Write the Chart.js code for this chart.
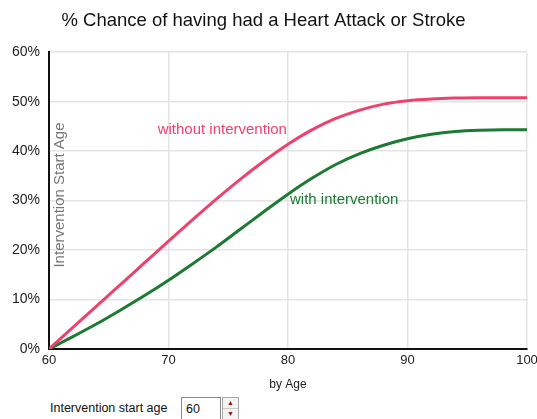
<!DOCTYPE html>
<html>
<head>
<meta charset="utf-8">
<script src="https://cdn.jsdelivr.net/npm/chart.js@4"></script>
<style>
  body { margin: 0; background: #fff; font-family: "Liberation Sans", Arial, sans-serif; }
  #wrap { position: relative; width: 537px; height: 419px; overflow: hidden; }
  #chartBox { position: absolute; left: 0; top: 0; width: 537px; height: 392px; }
  #controls { position: absolute; left: 50px; top: 397px; height: 22px; font-size: 12.5px; color: #111; }
  #controls .lbl { position: absolute; left: 0; top: 4px; white-space: nowrap; }
  #controls .box { position: absolute; left: 131px; top: 0; width: 40px; height: 23px; border: 1px solid #888; box-sizing: border-box; padding: 4px 0 0 4px; font-size: 12.5px; }
  #controls .spin { position: absolute; left: 172px; top: 0; width: 17px; height: 23px; border: 1px solid #aaa; box-sizing: border-box; background: #f4f4f4; }
  #controls .spin span { display: block; height: 10px; line-height: 10px; text-align: center; font-size: 7px; color: #8b1a1a; }
  #controls .spin span.up { border-bottom: 1px solid #ccc; }
</style>
</head>
<body>
<div id="wrap">
  <div id="chartBox"><canvas id="chart"></canvas></div>
  <div id="controls">
    <span class="lbl">Intervention start age</span>
    <div class="box">60</div>
    <div class="spin"><span class="up">▲</span><span>▼</span></div>
  </div>
</div>
<script>
// ages (x) and % chance
const ages = [60, 62, 64, 66, 68, 70, 72, 74, 76, 78, 80, 82, 84, 86, 88, 90, 92, 94, 96, 98, 100];
const withoutIntervention = [0, 4.36, 8.72, 13.08, 17.44, 21.8, 26.1, 30.3, 34.3, 38.0, 41.4, 44.3, 46.6, 48.3, 49.5, 50.2, 50.55, 50.72, 50.8, 50.8, 50.8];
const withIntervention = [0, 2.5, 5.1, 7.9, 10.8, 13.9, 17.2, 20.6, 24.2, 27.8, 31.3, 34.5, 37.3, 39.5, 41.2, 42.5, 43.4, 43.95, 44.2, 44.3, 44.3];
const xTicks = [60, 70, 80, 90, 100];
const yTicks = [0, 10, 20, 30, 40, 50, 60];

const pink = 'rgb(238, 66, 110)';
const green = 'rgb(28, 122, 50)';
const font = '"Liberation Sans", Arial, sans-serif';

// labels drawn inside the plot area
const plotLabels = {
    id: 'plotLabels',
    afterDatasetsDraw(chart) {
        const { ctx, chartArea, scales } = chart;
        ctx.save();
        ctx.font = '15px ' + font;
        ctx.textAlign = 'center';
        ctx.textBaseline = 'middle';
        ctx.fillStyle = pink;
        ctx.fillText('without intervention', scales.x.getPixelForValue(74.5), scales.y.getPixelForValue(44.4));
        ctx.fillStyle = green;
        ctx.fillText('with intervention', scales.x.getPixelForValue(84.7), scales.y.getPixelForValue(30.1));

        // axis title sits inside the plot, rotated
        ctx.translate(chartArea.left + 11, 195);
        ctx.rotate(-Math.PI / 2);
        ctx.fillStyle = '#777';
        ctx.font = '15px ' + font;
        ctx.fillText('Intervention Start Age', 0, 0);
        ctx.restore();
    }
};

const toPoints = (ys) => ys.map((y, i) => ({ x: ages[i], y: y }));

new Chart(document.getElementById('chart').getContext('2d'), {
    type: 'line',
    data: {
        datasets: [
            {
                label: 'without intervention',
                data: toPoints(withoutIntervention),
                borderColor: pink,
                borderWidth: 3,
                pointRadius: 0,
                cubicInterpolationMode: 'monotone'
            },
            {
                label: 'with intervention',
                data: toPoints(withIntervention),
                borderColor: green,
                borderWidth: 3,
                pointRadius: 0,
                cubicInterpolationMode: 'monotone'
            }
        ]
    },
    options: {
        responsive: true,
        maintainAspectRatio: false,
        animation: false,
        layout: { padding: { left: 0, right: 10, top: 0, bottom: 0 } },
        plugins: {
            legend: { display: false },
            tooltip: { enabled: false },
            title: {
                display: true,
                text: '% Chance of having had a Heart Attack or Stroke',
                color: '#111',
                font: { family: font, size: 18.5, weight: 'normal' },
                padding: { top: 10, bottom: 20 }
            }
        },
        scales: {
            x: {
                type: 'linear',
                min: 60,
                max: 100,
                afterBuildTicks: (s) => { s.ticks = xTicks.map(v => ({ value: v })); },
                afterFit: (s) => { s.height = 43; s.paddingRight = 0; s.paddingLeft = 0; },
                ticks: {
                    color: '#222',
                    padding: 4,
                    font: { family: font, size: 13 }
                },
                grid: { color: '#e4e4e4', lineWidth: 1.5, drawTicks: false },
                border: { color: '#111', width: 2 },
                title: {
                    display: true,
                    text: 'by Age',
                    color: '#222',
                    padding: { top: 2, bottom: 0 },
                    font: { family: font, size: 12 }
                }
            },
            y: {
                min: 0,
                max: 60,
                afterBuildTicks: (s) => { s.ticks = yTicks.map(v => ({ value: v })); },
                afterFit: (s) => { s.width = 49; },
                ticks: {
                    color: '#222',
                    padding: 9,
                    font: { family: font, size: 14 },
                    callback: (v) => v + '%'
                },
                grid: { color: '#e4e4e4', lineWidth: 1.5, drawTicks: false },
                border: { color: '#111', width: 2 }
            }
        }
    },
    plugins: [plotLabels]
});
</script>
</body>
</html>
